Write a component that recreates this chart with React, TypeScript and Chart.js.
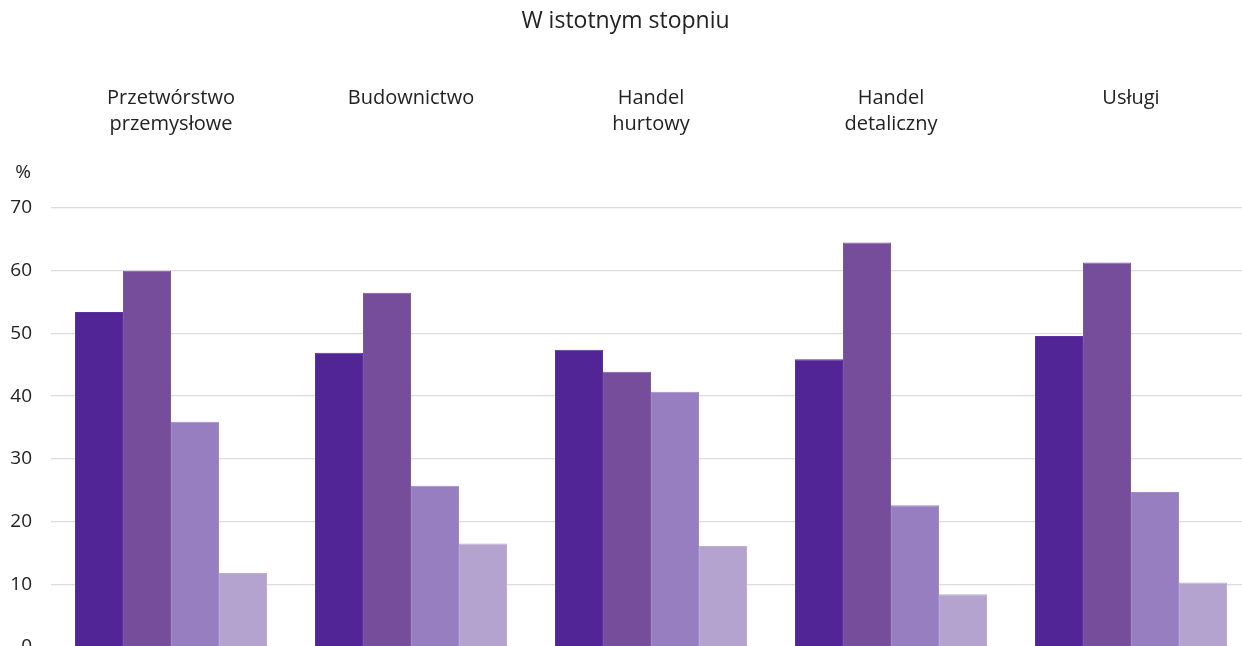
import React, { useEffect, useRef } from "react";
import { Chart, registerables } from "chart.js";

Chart.register(...registerables);

const titleText = "W istotnym stopniu";
const unitLabel = "%";
const categories: string[][] = [
  ["Przetwórstwo", "przemysłowe"],
  ["Budownictwo"],
  ["Handel", "hurtowy"],
  ["Handel", "detaliczny"],
  ["Usługi"],
];
const series1 = [53.4, 46.9, 47.4, 45.9, 49.6];
const series2 = [60.0, 56.5, 43.9, 64.5, 61.3];
const series3 = [35.9, 25.7, 40.7, 22.6, 24.7];
const series4 = [11.8, 16.5, 16.1, 8.4, 10.3];
const seriesColors = ["#522597", "#754D9A", "#967EC0", "#B3A3CE"];
const seriesBorders = ["#5B319E", "#7E58A3", "#A08BC6", "#BCAED4"];
const yTicks = [0, 10, 20, 30, 40, 50, 60, 70];

const FONT = "'Open Sans', 'Noto Sans', sans-serif";

export default function App() {
  const ref = useRef<HTMLCanvasElement | null>(null);

  useEffect(() => {
    if (!ref.current) return;
    const unitPlugin = {
      id: "unitLabel",
      afterDraw(chart: any) {
        const { ctx } = chart;
        const y = chart.scales.y;
        ctx.save();
        ctx.font = `19px ${FONT}`;
        ctx.fillStyle = "#222";
        ctx.textAlign = "right";
        ctx.textBaseline = "middle";
        ctx.fillText(unitLabel, 31, y.top - 35);
        ctx.restore();
      },
    };
    const chart = new Chart(ref.current, {
      type: "bar",
      data: {
        labels: categories,
        datasets: [series1, series2, series3, series4].map((d, i) => ({
          label: `s${i + 1}`,
          data: d,
          backgroundColor: seriesColors[i],
          borderColor: seriesBorders[i],
          borderWidth: 1,
          categoryPercentage: 0.8,
          barPercentage: 1.0,
        })),
      },
      options: {
        animation: false,
        responsive: false,
        maintainAspectRatio: false,
        layout: { padding: { left: 0, right: 9, top: 0, bottom: 33 } },
        plugins: {
          legend: { display: false },
          tooltip: { enabled: false },
          title: {
            display: true,
            text: titleText,
            color: "#222",
            font: { family: FONT, size: 23, weight: "normal", lineHeight: 1.2 },
            padding: { top: 8, bottom: 10 },
          },
        },
        scales: {
          x: {
            position: "top",
            grid: { display: false, drawTicks: false },
            border: { display: false },
            ticks: {
              color: "#222",
              font: { family: FONT, size: 20, lineHeight: 1.3 },
              padding: 71,
              maxRotation: 0,
              autoSkip: false,
              crossAlign: "far",
            },
            afterFit(scale: any) {
              scale.height = 208 - (8 + 23 * 1.2 + 10);
            },
          },
          y: {
            min: 0,
            max: 70,
            afterBuildTicks(scale: any) {
              scale.ticks = yTicks.map((v) => ({ value: v }));
            },
            grid: { color: "#dcdcdc", lineWidth: 1.3, drawTicks: false },
            border: { display: false },
            ticks: {
              color: "#222",
              font: { family: FONT, size: 19 },
              padding: 19,
            },
            afterFit(scale: any) {
              scale.width = 51;
            },
          },
        },
      },
      plugins: [unitPlugin],
    });
    return () => chart.destroy();
  }, []);

  return (
    <div
      style={{
        position: "fixed",
        left: 0,
        top: 0,
        width: 1242,
        height: 646,
        overflow: "hidden",
        background: "#fff",
      }}
    >
      <canvas ref={ref} width={1260} height={680} style={{ display: "block" }} />
    </div>
  );
}
